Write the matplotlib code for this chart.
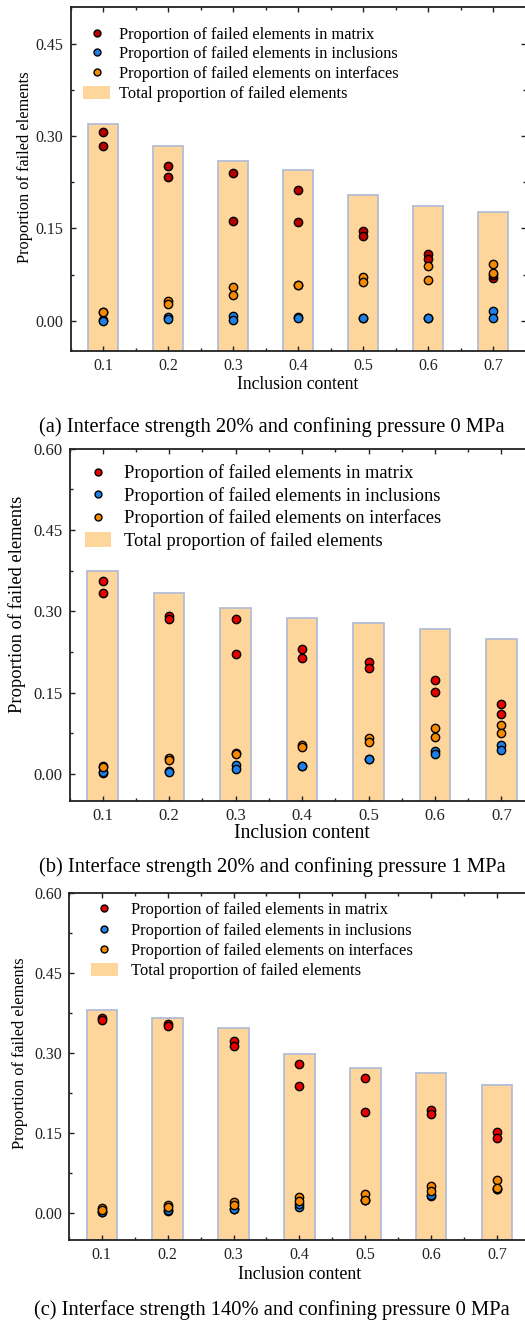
import matplotlib
matplotlib.use("Agg")
import matplotlib.pyplot as plt
from matplotlib.lines import Line2D
from matplotlib.patches import Patch
from matplotlib.ticker import MultipleLocator

plt.rcParams['font.family'] = ['Liberation Serif', 'DejaVu Serif']

# ---------------- data ----------------
inclusion_content = [0.1, 0.2, 0.3, 0.4, 0.5, 0.6, 0.7]
x_tick_labels = ['0.1', '0.2', '0.3', '0.4', '0.5', '0.6', '0.7']
y_ticks = [0.00, 0.15, 0.30, 0.45, 0.60]

# (a) interface strength 20%, confining pressure 0 MPa
total_a = [0.320, 0.284, 0.260, 0.2445, 0.204, 0.1865, 0.176]
matrix_a = [[0.307, 0.284], [0.252, 0.234], [0.240, 0.1616], [0.2125, 0.161],
            [0.146, 0.138], [0.1085, 0.0998], [0.069, 0.075]]
inclusion_a = [[0.001, 0.000], [0.0065, 0.003], [0.008, 0.002], [0.0065, 0.005],
               [0.005, 0.005], [0.0044, 0.0044], [0.016, 0.005]]
interface_a = [[0.0146, 0.014], [0.0325, 0.027], [0.0553, 0.0418], [0.058, 0.058],
               [0.0705, 0.0635], [0.0894, 0.0667], [0.093, 0.078]]

# (b) interface strength 20%, confining pressure 1 MPa
total_b = [0.374, 0.333, 0.3056, 0.288, 0.279, 0.267, 0.2496]
matrix_b = [[0.356, 0.333], [0.291, 0.2865], [0.286, 0.222], [0.2305, 0.214],
            [0.2066, 0.195], [0.1734, 0.1507], [0.129, 0.110]]
inclusion_b = [[0.0025, 0.004], [0.006, 0.0043], [0.0166, 0.010], [0.0148, 0.0142],
               [0.0277, 0.0277], [0.043, 0.0363], [0.0535, 0.0443]]
interface_b = [[0.0153, 0.012], [0.029, 0.025], [0.039, 0.036], [0.0535, 0.049],
               [0.0658, 0.0585], [0.0854, 0.0677], [0.0904, 0.075]]

# (c) interface strength 140%, confining pressure 0 MPa
total_c = [0.3805, 0.3655, 0.3468, 0.2987, 0.272, 0.262, 0.240]
matrix_c = [[0.365, 0.3617], [0.354, 0.351], [0.3224, 0.3137], [0.2794, 0.2388],
            [0.2526, 0.190], [0.193, 0.186], [0.1527, 0.1403]]
inclusion_c = [[0.002, 0.003], [0.005, 0.0062], [0.0075, 0.008], [0.011, 0.0168],
               [0.024, 0.025], [0.033, 0.034], [0.046, 0.046]]
interface_c = [[0.0094, 0.006], [0.0155, 0.0125], [0.0217, 0.015], [0.031, 0.0236],
               [0.036, 0.025], [0.051, 0.0423], [0.0623, 0.0468]]

captions = ['(a) Interface strength 20% and confining pressure 0 MPa',
            '(b) Interface strength 20% and confining pressure 1 MPa',
            '(c) Interface strength 140% and confining pressure 0 MPa']
legend_labels = ['Proportion of failed elements in matrix',
                 'Proportion of failed elements in inclusions',
                 'Proportion of failed elements on interfaces',
                 'Total proportion of failed elements']

# ---------------- style ----------------
BAR_FACE = '#FED69B'
BAR_EDGE = '#B3BDD6'
BLUE = '#1E80E6'
ORANGE = '#F58A00'

fig = plt.figure(figsize=(5.25, 13.22), dpi=100)
W, H = 525.0, 1322.0


def px_axes(left, right, top, bottom):
    return fig.add_axes([left / W, 1 - bottom / H, (right - left) / W, (bottom - top) / H])


panels = [
    dict(total=total_a, matrix=matrix_a, incl=inclusion_a, intf=interface_a,
         red='#B80000', box=(70.5, 525.5, 7, 351.5), ylim=(-0.05, 0.510),
         fs_tick=11.5, fs_lab=12.7, fs_leg=11.8, leg_anchor=(0.0275, 0.943), leg_space=0.23,
         hl=1.65, hp=0.55, ylab_xy=(25, 167), ylab_fs=11.8, xlab_y=-0.072, cap_y=427),
    dict(total=total_b, matrix=matrix_b, incl=inclusion_b, intf=interface_b,
         red='#E60000', box=(69.5, 534.7, 448.7, 801.1), ylim=(-0.05, 0.60),
         fs_tick=12, fs_lab=14.1, fs_leg=13.3, leg_anchor=(0.033, 0.955), leg_space=0.25,
         hl=1.44, hp=0.67, ylab_xy=(17, 604), ylab_fs=13.3, xlab_y=-0.066, cap_y=867),
    dict(total=total_c, matrix=matrix_c, incl=inclusion_c, intf=interface_c,
         red='#E60000', box=(68.7, 530.2, 892.7, 1240.0), ylim=(-0.05, 0.60),
         fs_tick=11.5, fs_lab=12.9, fs_leg=11.9, leg_anchor=(0.048, 0.972), leg_space=0.25,
         hl=1.62, hp=0.83, ylab_xy=(20, 1053), ylab_fs=11.8, xlab_y=-0.076, cap_y=1310),
]

for p, cap in zip(panels, captions):
    ax = px_axes(*p['box'])
    y0, y1 = p['ylim']

    ax.bar(inclusion_content, [t - y0 for t in p['total']], bottom=y0, width=0.046,
           color=BAR_FACE, edgecolor=BAR_EDGE, linewidth=1.3, zorder=1)

    ms = 6.0
    for xi, m, inc, itf in zip(inclusion_content, p['matrix'], p['incl'], p['intf']):
        ax.plot([xi] * len(m), m, 'o', ms=ms, mfc=p['red'], mec='black', mew=1.0, ls='none', zorder=3)
        ax.plot([xi] * len(inc), inc, 'o', ms=ms, mfc=BLUE, mec='black', mew=1.0, ls='none', zorder=4)
        ax.plot([xi] * len(itf), itf, 'o', ms=ms, mfc=ORANGE, mec='black', mew=1.0, ls='none', zorder=5)

    ax.set_xticks(inclusion_content)
    ax.set_xticklabels(x_tick_labels)
    yt = [v for v in y_ticks if v <= y1 + 1e-9]
    ax.set_yticks(yt)
    ax.set_yticklabels([f'{v:.2f}' for v in yt])
    ax.xaxis.set_minor_locator(MultipleLocator(0.05))
    ax.yaxis.set_minor_locator(MultipleLocator(0.075))
    ax.set_xlim(0.05, 0.75)
    ax.set_ylim(y0, y1)
    ax.tick_params(which='both', direction='in', top=True, right=True,
                   labelsize=p['fs_tick'], colors='#222222')
    ax.tick_params(which='major', length=3.8, width=1.0, pad=5)
    ax.tick_params(which='minor', length=2.3, width=1.0)
    for s in ax.spines.values():
        s.set_linewidth(1.3)
        s.set_color('#222222')

    ax.set_xlabel('Inclusion content', fontsize=p['fs_lab'])
    ax.xaxis.set_label_coords(0.5, p['xlab_y'])
    fig.text(p['ylab_xy'][0] / W, 1 - p['ylab_xy'][1] / H, 'Proportion of failed elements',
             rotation=90, ha='center', va='center', fontsize=p['ylab_fs'])

    handles = [
        Line2D([], [], marker='o', ls='none', ms=5, mfc=p['red'], mec='black', mew=1.0),
        Line2D([], [], marker='o', ls='none', ms=5, mfc=BLUE, mec='black', mew=1.0),
        Line2D([], [], marker='o', ls='none', ms=5, mfc=ORANGE, mec='black', mew=1.0),
        Patch(facecolor=BAR_FACE, edgecolor='none'),
    ]
    ax.legend(handles, legend_labels, loc='upper left', bbox_to_anchor=p['leg_anchor'],
              frameon=False, fontsize=p['fs_leg'], handlelength=p['hl'], handleheight=0.8,
              handletextpad=p['hp'], labelspacing=p['leg_space'], borderaxespad=0,
              borderpad=0)

    fig.text(272 / W, 1 - p['cap_y'] / H, cap, ha='center', va='center', fontsize=14.8)

fig.savefig('out.png', dpi=100)
